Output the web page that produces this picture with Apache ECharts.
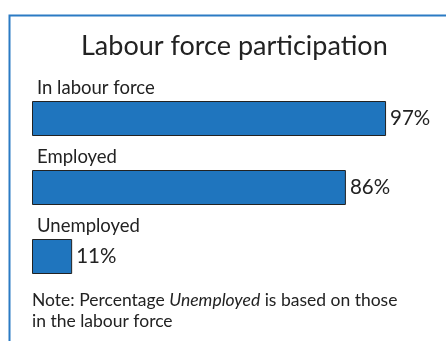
<!DOCTYPE html>
<html>
<head>
<meta charset="utf-8">
<script src="https://cdn.jsdelivr.net/npm/echarts@6/dist/echarts.min.js"></script>
<style>
html,body{margin:0;padding:0;background:#fff;}
#main{width:446px;height:341px;}
</style>
</head>
<body>
<div id="main"></div>
<script>
// data
var categories = ['In labour force', 'Employed', 'Unemployed'];
var values = [97, 86, 11];
var titleText = 'Labour force participation';
var noteItalic = 'Unemployed';

var FONT = 'Lato';
var chart = echarts.init(document.getElementById('main'));

var option = {
	animation: false,
	textStyle: { fontFamily: FONT },
	title: {
		text: titleText,
		left: 76,
		top: 28,
		textStyle: { fontSize: 27, fontWeight: 'normal', color: '#222', fontFamily: FONT }
	},
	grid: { left: 32, top: 84, width: 365, height: 207 },
	xAxis: { type: 'value', min: 0, max: 100, show: false },
	yAxis: { type: 'category', data: categories, inverse: true, show: false },
	series: [
		{
			type: 'bar',
			data: values,
			barWidth: 35,
			itemStyle: { color: '#1f75be', borderColor: '#222', borderWidth: 1 },
			label: {
				show: true, position: 'right', distance: 4,
				formatter: '{c}%', fontSize: 20.5, color: '#222', fontFamily: FONT
			}
		},
		{ // category names above bars
			type: 'bar',
			data: values,
			barWidth: 35,
			barGap: '-100%',
			silent: true,
			itemStyle: { color: 'transparent' },
			label: {
				show: true, position: [5, -13], align: 'left', verticalAlign: 'middle',
				formatter: '{b}', fontSize: 18.5, color: '#222', fontFamily: FONT
			}
		}
	],
	graphic: [
		{ // frame
			type: 'rect', left: 7, top: 13,
			shape: { width: 460, height: 340 },
			style: { fill: 'none', stroke: '#2b7bc4', lineWidth: 2 }
		},
		{
			type: 'text', left: 32, top: 290,
			style: {
				text: 'Note: Percentage {i|' + noteItalic + '} is based on those\nin the labour force',
				fontSize: 17.5, fill: '#222', lineHeight: 21, fontFamily: FONT,
				rich: { i: { fontStyle: 'italic', fontSize: 17.5, fontFamily: FONT, fill: '#222' } }
			}
		}
	]
};
chart.setOption(option);
</script>
</body>
</html>
